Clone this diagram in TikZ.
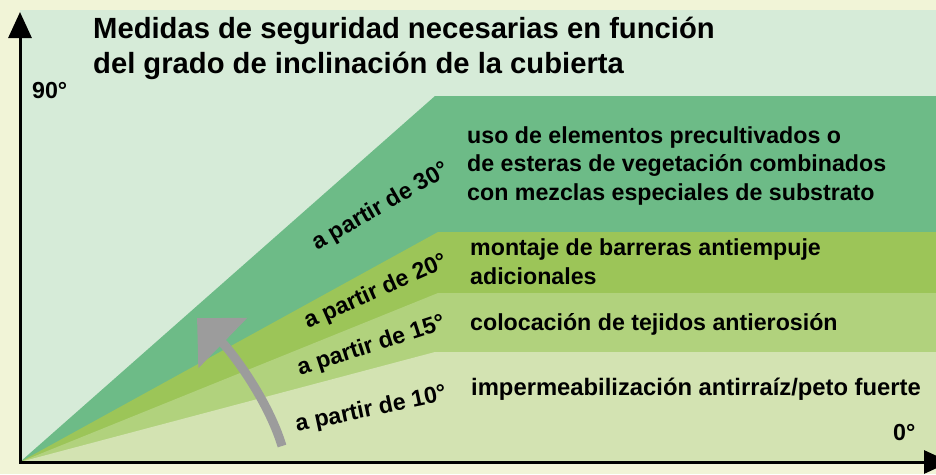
\documentclass[tikz,border=0pt]{standalone}
\usepackage{fontspec}
\setmainfont{Liberation Sans}
\usepackage{tikz}
\usetikzlibrary{arrows.meta}

\definecolor{fondo}{HTML}{F1F4D7}
\definecolor{panel}{HTML}{D6EBD8}
\definecolor{banda30}{HTML}{6DBB87}
\definecolor{banda20}{HTML}{9CC558}
\definecolor{banda15}{HTML}{B1D27D}
\definecolor{banda10}{HTML}{D3E3B2}
\definecolor{gris}{HTML}{9C9C9C}

\begin{document}
\begin{tikzpicture}[x=1pt,y=-1pt,
  texto/.style={font=\fontsize{23.2}{28.5}\selectfont\bfseries,inner sep=0pt,anchor=base west,align=left},
  titulo/.style={texto,font=\fontsize{29.2}{35}\selectfont\bfseries},
  eje/.style={line width=3pt,{Triangle[length=26pt,width=23pt]}-{Triangle[length=26pt,width=23pt]}}]
\clip (0,0) rectangle (936,474);
\fill[fondo] (0,0) rectangle (936,474);
\fill[panel] (20,10) rectangle (936,462);
\coordinate (o) at (20,462);
\coordinate (ytop) at (20,12);
\coordinate (xend) at (950,462);
\fill[banda30] (o) -- (435,96) -- (936,96) -- (936,462) -- cycle;
\fill[banda20] (o) -- (438,232) -- (936,232) -- (936,462) -- cycle;
\fill[banda15] (o) -- (438,293) -- (936,293) -- (936,462) -- cycle;
\fill[banda10] (o) -- (435,352) -- (936,352) -- (936,462) -- cycle;
\draw[eje] (ytop) -- (o) -- (xend);
\coordinate (fini) at (282,446);
\coordinate (ffin) at (197,318);
\draw[gris,line width=9pt,-{Triangle[length=36pt,width=68pt]}]
(fini) .. controls (268,400) and (232,352) .. (ffin);
\node[titulo] (tit) at (93,73) {Medidas de seguridad necesarias en función\\del grado de inclinación de la cubierta};
\node[texto] (g90) at (32,98) {90°};
\node[texto] (g0) at (893,440) {0°};
\node[texto,rotate=30] (l30) at (317,251) {a partir de 30°};
\node[texto,rotate=24] (l20) at (308,329) {a partir de 20°};
\node[texto,rotate=18] (l15) at (300,376) {a partir de 15°};
\node[texto,rotate=12] (l10) at (297,432) {a partir de 10°};
\node[texto] (m30) at (467,200) {uso de elementos precultivados o\\de esteras de vegetación combinados\\con mezclas especiales de substrato};
\node[texto] (m20) at (470,284) {montaje de barreras antiempuje\\adicionales};
\node[texto] (m15) at (470,330) {colocación de tejidos antierosión};
\node[texto,font=\fontsize{23.8}{28.5}\selectfont\bfseries] (m10) at (471,395) {impermeabilización antirraíz/peto fuerte};
\end{tikzpicture}
\end{document}
